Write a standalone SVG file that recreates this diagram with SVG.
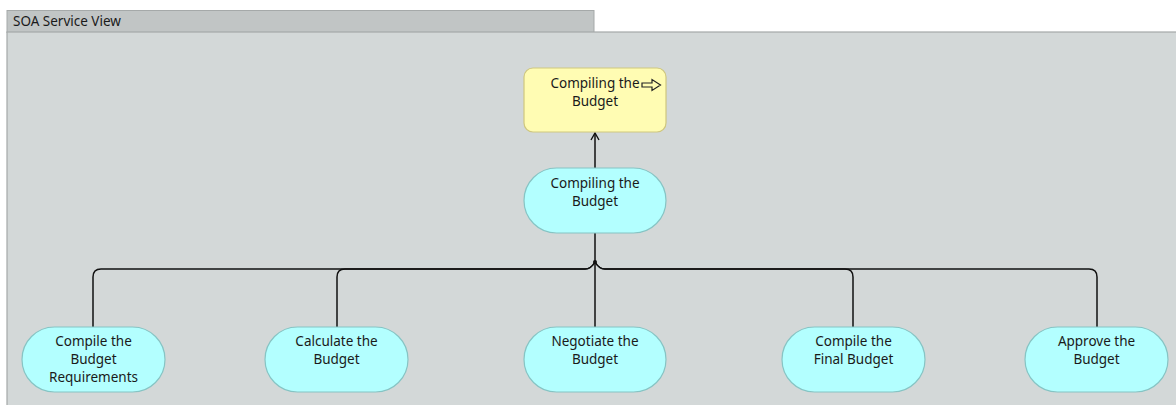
<svg xmlns="http://www.w3.org/2000/svg" width="1176" height="405" viewBox="0 0 1176 405">
  <defs>
    <style>
      .lbl { font-family: "Noto Sans", "Open Sans", sans-serif; font-size: 13.5px; fill: #1a1a1a; text-anchor: middle; }
      .title { font-family: "Noto Sans", "Open Sans", sans-serif; font-size: 13.5px; fill: #1a1a1a; }
      .svc { fill: #b3ffff; stroke: #86c4c4; stroke-width: 1.2; }
      .cap { fill: #fffcb3; stroke: #cfc77e; stroke-width: 1.2; }
      .wire { fill: none; stroke: #111; stroke-width: 1.5; }
    </style>
    <marker id="openHead" viewBox="0 0 10 10" refX="9" refY="5" markerWidth="10" markerHeight="10" markerUnits="userSpaceOnUse" orient="auto">
      <path d="M2,1 L9,5 L2,9" fill="none" stroke="#111" stroke-width="1.4"/>
    </marker>
  </defs>

  <!-- view frame -->
  <g id="frame">
    <rect x="0" y="0" width="1176" height="405" fill="#ffffff"/>
    <rect x="7" y="10.5" width="587" height="22" fill="#c1c5c5" stroke="#a5a9a9" stroke-width="1"/>
    <rect x="7" y="32" width="1172" height="380" fill="#d3d8d8" stroke="#a5a9a9" stroke-width="1.2"/>
    <text class="title" x="13" y="26">SOA Service View</text>
  </g>

  <!-- connectors -->
  <g id="connectors">
    <path class="wire" d="M595,168 V133" marker-end="url(#openHead)"/>
    <path class="wire" d="M595,233 V327"/>
    <path class="wire" d="M595,262 Q591,269 585,269 H101 Q93,269 93,277 V327"/>
    <path class="wire" d="M595,262 Q591,269 585,269 H345 Q337,269 337,277 V327"/>
    <path class="wire" d="M595,262 Q599,269 605,269 H845 Q853,269 853,277 V327"/>
    <path class="wire" d="M595,262 Q599,269 605,269 H1089 Q1097,269 1097,277 V327"/>
    <circle cx="595" cy="262" r="2" fill="#111"/>
  </g>

  <!-- capability -->
  <g id="cap-compiling">
    <rect class="cap" x="524" y="68" width="142" height="64" rx="9"/>
    <text class="lbl" x="595" y="88">Compiling the</text>
    <text class="lbl" x="595" y="106">Budget</text>
    <path d="M642,83 H652 V79.5 L660.5,85 L652,90.5 V87 H642 Z" fill="none" stroke="#222" stroke-width="1.2" stroke-linejoin="miter"/>
  </g>

  <!-- services -->
  <g id="svc-compiling">
    <rect class="svc" x="524" y="168" width="142" height="65" rx="32.5"/>
    <text class="lbl" x="595" y="188">Compiling the</text>
    <text class="lbl" x="595" y="206">Budget</text>
  </g>

  <g id="svc-requirements">
    <rect class="svc" x="22" y="327" width="143" height="65" rx="32.5"/>
    <text class="lbl" x="93.5" y="346">Compile the</text>
    <text class="lbl" x="93.5" y="364">Budget</text>
    <text class="lbl" x="93.5" y="382">Requirements</text>
  </g>

  <g id="svc-calculate">
    <rect class="svc" x="265" y="327" width="143" height="65" rx="32.5"/>
    <text class="lbl" x="336.5" y="346">Calculate the</text>
    <text class="lbl" x="336.5" y="364">Budget</text>
  </g>

  <g id="svc-negotiate">
    <rect class="svc" x="524" y="327" width="142" height="65" rx="32.5"/>
    <text class="lbl" x="595" y="346">Negotiate the</text>
    <text class="lbl" x="595" y="364">Budget</text>
  </g>

  <g id="svc-final">
    <rect class="svc" x="782" y="327" width="143" height="65" rx="32.5"/>
    <text class="lbl" x="853.5" y="346">Compile the</text>
    <text class="lbl" x="853.5" y="364">Final Budget</text>
  </g>

  <g id="svc-approve">
    <rect class="svc" x="1025" y="327" width="143" height="65" rx="32.5"/>
    <text class="lbl" x="1096.5" y="346">Approve the</text>
    <text class="lbl" x="1096.5" y="364">Budget</text>
  </g>
</svg>
